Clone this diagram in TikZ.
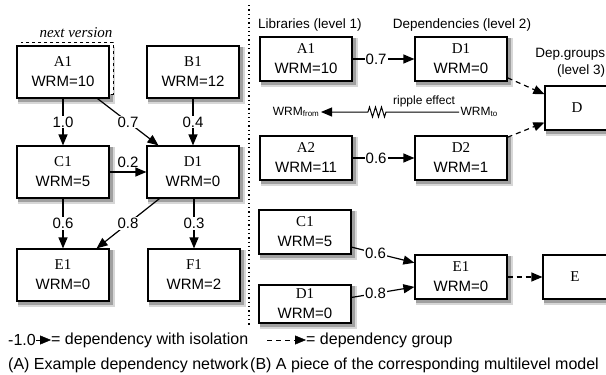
\documentclass[tikz,border=0pt]{standalone}
\usepackage{fontspec}
\setmainfont{Liberation Sans}
\newfontfamily\libfont{Liberation Serif}
\usetikzlibrary{arrows.meta,decorations.pathmorphing,positioning,backgrounds}
\definecolor{shadowlight}{RGB}{215,215,215}
\definecolor{shadowdark}{RGB}{160,160,160}
\tikzset{
	lib/.style={rectangle, draw, fill=white, minimum width=92pt, minimum height=52pt, align=center, font=\fontsize{15}{20}\selectfont},
	lib2/.style={lib, minimum height=44pt},
	grp/.style={lib2, minimum width=64pt},
	boxshadow/.style={fill=shadowlight},
	boxshadow2/.style={fill=shadowdark},
	diredge/.style={->,>={Triangle[width=9pt,length=11pt]}, color=black},
	grpedge/.style={diredge, dash pattern=on 5pt off 4pt},
	wlabel/.style={fill=white, inner sep=1pt, font=\fontsize{15}{15}\selectfont},
	header/.style={font=\fontsize{13.5}{17}\selectfont},
	small/.style={font=\fontsize{12}{12}\selectfont, inner sep=1pt},
	legend/.style={font=\fontsize{16}{16}\selectfont, inner sep=0pt}
}
\begin{document}
\begin{tikzpicture}[x=1pt, y=-1pt, line width=1.2pt]
\useasboundingbox (0,0) rectangle (606,375);

% (A) dependency network
\node[lib, dashed, line width=1pt] (A1next) at (67,68) {};
\node[font=\fontsize{15}{15}\selectfont\libfont\itshape] (nextlabel) at (76,33) {next version};

    \node[lib] (A1) at (63,72) {{\libfont A1}\\WRM=10};
    \node[lib] (B1) at (193,72) {{\libfont B1}\\WRM=12};
    \node[lib] (C1) at (63,172) {{\libfont C1}\\WRM=5};
    \node[lib] (D1) at (193,172) {{\libfont D1}\\WRM=0};
    \node[lib] (E1) at (63,275) {{\libfont E1}\\WRM=0};
    \node[lib] (F1) at (194,275) {{\libfont F1}\\WRM=2};

    \draw[diredge] (A1) --node[wlabel] {1.0} (C1);
    \draw[diredge] (A1) --node[wlabel] {0.7} (D1);
    \draw[diredge] (B1) --node[wlabel] {0.4} (D1);
    \draw[diredge] (C1) --node[wlabel, fill=none, above=3pt] {0.2} (D1);
    \draw[diredge] (C1) --node[wlabel] {0.6} (E1);
    \draw[diredge] (D1) --node[wlabel] {0.8} (E1);
    \draw[diredge] (D1.south -| F1) --node[wlabel] {0.3} (F1);

\draw[line width=1.3pt, dash pattern=on 1.3pt off 3pt] (249,5) -- (249,325);

% (B) multilevel model
\node[header] (libHead) at (310,25) {Libraries (level 1)};
\node[header] (depHead) at (462,25) {Dependencies (level 2)};
\node[header, anchor=east, align=right] (grpHead) at (609,63) {Dep.groups\\(level 3)};

    \node[lib2] (libA1) at (306,59) {{\libfont A1}\\WRM=10};
    \node[lib2] (depD1) at (461,59) {{\libfont D1}\\WRM=0};
    \node[grp] (grpD) at (577,108) {\libfont D};
    \node[lib2] (libA2) at (306,158) {{\libfont A2}\\WRM=11};
    \node[lib2] (depD2) at (461,158) {{\libfont D2}\\WRM=1};

    \draw[diredge] (libA1) --node[wlabel, pos=.38] {0.7} (depD1);
    \draw[diredge] (libA2) --node[wlabel, pos=.38] {0.6} (depD2);
    \draw[grpedge] (depD1.-22) -- (grpD.157);
    \draw[grpedge] (depD2.24) -- (grpD.-156);

\node[small, anchor=east] (wFrom) at (321,112) {WRM\textsubscript{from}};
\node[small, anchor=west] (wTo) at (459,112) {WRM\textsubscript{to}};
\node[small] (ripple) at (424,101) {ripple effect};
\coordinate (zigR) at (386,112);
\coordinate (zigL) at (368,112);
\draw[diredge, line width=1pt] (wTo.west) -- (zigR) decorate[decoration={zigzag, segment length=6pt, amplitude=5pt}] {-- (zigL)} -- (wFrom.east);

    \node[lib2] (libC1) at (305,232) {{\libfont C1}\\WRM=5};
    \node[lib2, minimum height=38pt] (libD1) at (305,304) {{\libfont D1}\\WRM=0};
    \node[lib2] (depE1) at (461,277) {{\libfont E1}\\WRM=0};
    \node[grp] (grpE) at (575,277) {\libfont E};

    \draw[diredge] (libC1.-18) --node[wlabel, pos=.38] {0.6} (depE1.163);
    \draw[diredge] (libD1.8) --node[wlabel, pos=.38] {0.8} (depE1.-168);
    \draw[grpedge] (depE1) -- (grpE);

% shadows behind the boxes
\begin{pgfonlayer}{background}
\foreach \n in {A1,B1,C1,D1,E1,F1,libA1,depD1,grpD,libA2,depD2,libC1,libD1,depE1,grpE}{
    \fill[boxshadow] ([shift={(2pt,-2pt)}]\n.north west) rectangle ([shift={(5pt,-5pt)}]\n.south east);
    \fill[boxshadow2] ([shift={(2pt,-2pt)}]\n.north west) rectangle ([shift={(3pt,-3pt)}]\n.south east);
}
\end{pgfonlayer}

% legend and captions
\node[legend, anchor=west] (isoNum) at (8,340) {-1.0};
\node[legend, anchor=west] (isoText) at (51,340) {= dependency with isolation};
\draw[diredge] (isoNum) -- (isoText);
\coordinate (grpStart) at (267,340);
\node[legend, anchor=west] (grpText) at (306,340) {= dependency group};
\draw[grpedge] (grpStart) -- (grpText);

\node[legend, anchor=west] (capA) at (8,365) {(A) Example dependency network};
\node[legend, anchor=west] (capB) at (250,365) {(B) A piece of the corresponding multilevel model};
\end{tikzpicture}
\end{document}
